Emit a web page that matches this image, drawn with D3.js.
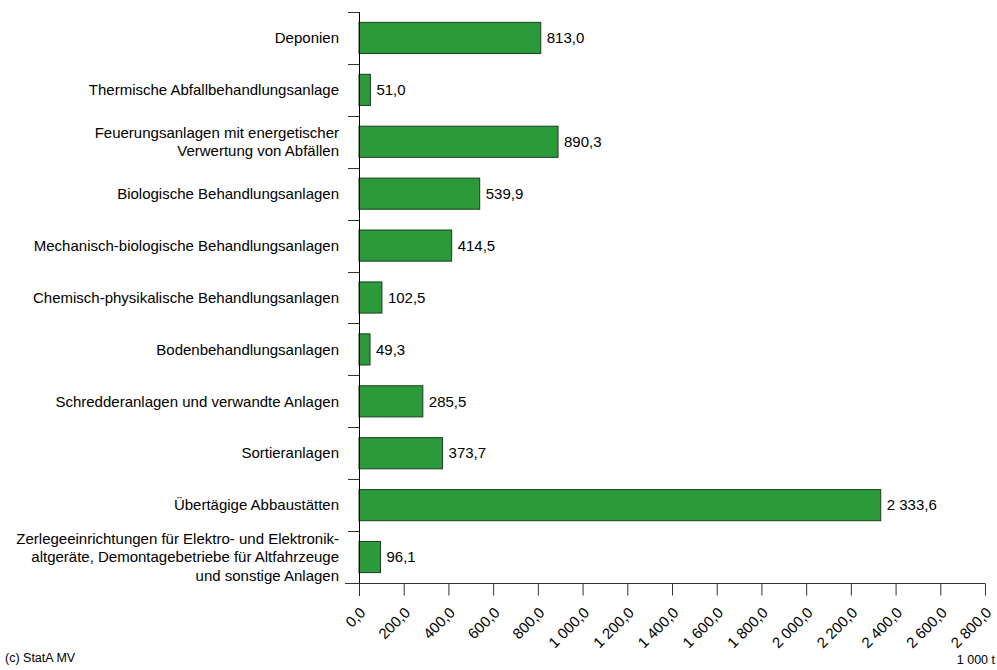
<!DOCTYPE html>
<html>
<head>
<meta charset="utf-8">
<script src="https://cdn.jsdelivr.net/npm/d3@7"></script>
<style>
  body { margin: 0; background: #fff; }
  text { font-family: "Liberation Sans", Arial, sans-serif; fill: #000; }
</style>
</head>
<body>
<div id="chart"></div>
<script>
// categories (lines of each label), values in 1 000 t
var categories = [
    ["Deponien"],
    ["Thermische Abfallbehandlungsanlage"],
    ["Feuerungsanlagen mit energetischer", "Verwertung von Abfällen"],
    ["Biologische Behandlungsanlagen"],
    ["Mechanisch-biologische Behandlungsanlagen"],
    ["Chemisch-physikalische Behandlungsanlagen"],
    ["Bodenbehandlungsanlagen"],
    ["Schredderanlagen und verwandte Anlagen"],
    ["Sortieranlagen"],
    ["Übertägige Abbaustätten"],
    ["Zerlegeeinrichtungen für Elektro- und Elektronik-", "altgeräte, Demontagebetriebe für Altfahrzeuge", "und sonstige Anlagen"]
];
var values = [813.0, 51.0, 890.3, 539.9, 414.5, 102.5, 49.3, 285.5, 373.7, 2333.6, 96.1];
var xTicks = [0, 200, 400, 600, 800, 1000, 1200, 1400, 1600, 1800, 2000, 2200, 2400, 2600, 2800];

var width = 997, height = 670;
var margin = {top: 12, left: 359, right: 12, bottom: 87};

var fmt = function (v) {
    var s = v.toFixed(1).split(".");
    var intPart = s[0].replace(/\B(?=(\d{3})+(?!\d))/g, " ");
    return intPart + "," + s[1];
};

var svg = d3.select("#chart")
    .append("svg")
        .attr("width", width)
        .attr("height", height);

var x = d3.scaleLinear()
    .domain([0, 2800])
    .range([margin.left, width - margin.right]);

var idx = d3.range(categories.length);
var y = d3.scaleBand()
    .domain(idx)
    .range([margin.top, height - margin.bottom])
    .paddingInner(0.4)
    .paddingOuter(0.2);

var bandTop = margin.top, bandBottom = height - margin.bottom;
var step = (bandBottom - bandTop) / categories.length;

// bars
svg.selectAll(".bar")
    .data(values)
    .enter()
    .append("rect")
    .attr("class", "bar")
    .attr("x", x(0))
    .attr("y", function (d, i) {return y(i);})
    .attr("width", function (d) {return x(d) - x(0);})
    .attr("height", y.bandwidth())
    .attr("fill", "#2a9a3b")
    .attr("stroke", "#1d3d20")
    .attr("stroke-width", 1);

// value labels
svg.selectAll(".val")
    .data(values)
    .enter()
    .append("text")
    .attr("class", "val")
    .attr("x", function (d) {return x(d) + 6;})
    .attr("y", function (d, i) {return y(i) + y.bandwidth() / 2;})
    .attr("dy", "0.35em")
    .style("font-size", "15px")
    .text(function (d) {return fmt(d);});

// y axis line and band separators
svg.append("line")
    .attr("x1", x(0) + 0.5).attr("x2", x(0) + 0.5)
    .attr("y1", bandTop).attr("y2", bandBottom + 13)
    .attr("stroke", "#000");

svg.selectAll(".ytick")
    .data(d3.range(categories.length + 1))
    .enter()
    .append("line")
    .attr("class", "ytick")
    .attr("x1", x(0) - 11).attr("x2", x(0))
    .attr("y1", function (d) {return Math.round(bandTop + d * step) + 0.5;})
    .attr("y2", function (d) {return Math.round(bandTop + d * step) + 0.5;})
    .attr("stroke", "#333");

// category labels
var lineH = 18.5;
var cat = svg.selectAll(".cat")
    .data(categories)
    .enter()
    .append("text")
    .attr("class", "cat")
    .attr("text-anchor", "end")
    .style("font-size", "15px")
    .attr("transform", function (d, i) {
        var cy = y(i) + y.bandwidth() / 2 - (d.length - 1) * lineH / 2;
        return "translate(" + (x(0) - 20) + "," + cy + ")";
    });
cat.selectAll("tspan")
    .data(function (d) {return d;})
    .enter()
    .append("tspan")
    .attr("x", 0)
    .attr("y", function (d, i) {return i * lineH;})
    .attr("dy", "0.35em")
    .text(function (d) {return d;});

// x axis
var xAxis = svg.append("g")
    .attr("transform", "translate(0," + (bandBottom + 0.5) + ")")
    .call(d3.axisBottom(x).tickValues(xTicks).tickSize(12).tickFormat(fmt));
xAxis.select(".domain")
    .attr("d", "M" + (x(0) - 14) + ",0H" + x(2800))
    .attr("stroke", "#333");
xAxis.selectAll(".tick line").attr("stroke", "#333");
xAxis.selectAll(".tick text")
    .style("font-size", "15px")
    .style("font-family", "Liberation Sans, Arial, sans-serif")
    .attr("text-anchor", "end")
    .attr("fill", "#000")
    .attr("dy", 0)
    .attr("y", 0)
    .attr("transform", "translate(7,30) rotate(-45)");

// footer texts
svg.append("text")
    .attr("x", 5)
    .attr("y", 662)
    .style("font-size", "12.5px")
    .text("(c) StatA MV");

svg.append("text")
    .attr("x", 995)
    .attr("y", 664)
    .attr("text-anchor", "end")
    .style("font-size", "12.5px")
    .text("1 000 t");
</script>
</body>
</html>
